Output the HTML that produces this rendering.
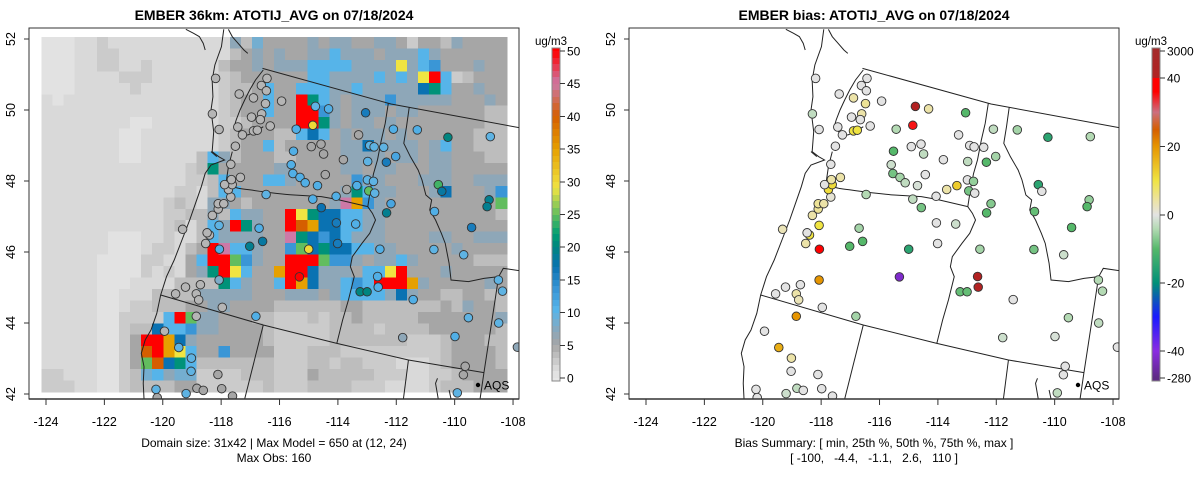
<!DOCTYPE html>
<html><head><meta charset="utf-8">
<style>
html,body{margin:0;padding:0;background:#fff;}
svg{display:block;font-family:"Liberation Sans",Arial,sans-serif;}
</style></head>
<body>
<svg id="root" width="1200" height="479" viewBox="0 0 1200 479" xmlns="http://www.w3.org/2000/svg">
<defs>
<clipPath id="clipL"><rect x="29" y="28" width="490" height="371"/></clipPath>
<clipPath id="clipR"><rect x="29" y="28" width="490" height="371"/></clipPath>
</defs>
<g id="panelL"></g>
<g id="panelR" transform="translate(600,0)"></g>
</svg>
<script>
// ---------------- data ----------------
const gridRowsLeft = [
"aaabbcbbbbbbbbbbbfdge","aaabbccbbbbbbbbbbdefe","aaabbccbbcbbbbbbdeefe","aaabbbbcccbbbbbbcdeee",
"aaabbbbbcbbbbbbbcddeh","babbbbbbbbbbbbbbcdeeh","bbbbbbbbbbbbbbbbcdeeh","bbbbbbbbaabbbbbbccdee",
"bbbbbbbaabbbbbbbcdeee","bbbbbbbaabbbbbbbcdeeh","bbbbbbbaabbbbbdhfdeee","bbbbbbbbbbbbbcdkeeeee",
"bbbbbbbbbbbbbccdheeeh","bbbbbbbbbbbbccbdhheee","bbbbbbbbbbbcdcbffedee","bbbbbbbbbbbccddfdhffe",
"bbbbbbbbbbbcdbdhfqkfe","bbbbbbaaabbcbbdhffffe","bbbbbbaaabccbdeqphhfe","bbbbbaaaaccbbehqqlife",
"bbbbbaaaacbcbefkqmhee","bbbbbaaabbbbddddkhfee","bbbbbaabbbddddfffffee","bbbbbaabccdddeeffeeee",
"bbbbbaacccchqlffeeedd","bbbbbaacddjhhiffeeeed","bbbbbaaceqqnjfeeeeeed","bbbbbaaceoqnmheeieeee",
"bbbbbaacelojkhddddddd","ccbbbaacdghfggccccddd","cccbbaacddddeeccccccd"];
const gridRowsRight = [
"eeefeffeeffeceedfeeee","feeffhfffefffhfeeeeee","fffhhhhffffmfhieeefee","eeehhffffhfhfmqhcdeee",
"eehhhffhfffffjkheefee","eeqkhfefffifffffeeefe","eeqqifefffeffeeeeeedd","eeqqkfeffefeeeeeeeedd",
"ddhjhefeffefeeeeeeddd","deeeeeffjffffefheeddd","ddeeeeffffeffeffeeedd","ffeeeeffeffeeeffeeeee",
"hfeeeeeiffeeefffeefff","eeeeeefkhffeeefjeeefi","eeeeefpnifeeeeeeeeeel","eqmkjjhhffeeeeeeeeeed",
"eqonjjhhffeeeeeeeeeee","epkjijhfffeeeeffeefff","eiljkjjhhffeeeeefeeee","eqqqliifeffhfeeeeeddd",
"nqqjfffehhmqeeefeeeee","hqnjffhihqqqnfeeeeefe","efffefhhhhfjfeeddeedd","ddddddeedddddddedfeed",
"cccdcddedddddeeeeeeef","cccccddddcddddeeeeeed","cccccdddddddcccdeeedd","cccdddcccccccccdeeeed",
"cccddcddcccbbbcdeeeed","cccedddddcccbbccdeeee","cccddddcccbbbbcdddeee"];
const codeKeys   = ["a","b","c","d","e","f","g","h","i","j","k","l","m","n","o","p","q"];
const codeValues = [0.5,1.5,2.5,3.5,5,7,8.5,10.5,13.5,17,21,25,29,35,40,45,50];

const stationLon = [-118.19,-116.43,-116.62,-116.45,-117.38,-116.89,-116.48,-115.93,-118.30,-116.61,-116.96,-116.66,-117.43,-118.07,-116.32,-117.27,-116.89,-116.76,-117.51,-114.77,-114.32,-113.05,-114.86,-115.43,-115.52,-114.91,-114.58,-114.49,-113.29,-112.10,-111.28,-110.23,-108.78,-112.91,-112.76,-112.43,-112.34,-112.02,-112.98,-113.81,-115.60,-115.54,-115.30,-115.12,-114.70,-114.43,-113.35,-113.70,-112.99,-112.78,-112.94,-112.74,-114.06,-114.86,-116.46,-114.57,-112.18,-112.33,-110.56,-110.44,-108.82,-108.89,-110.69,-109.42,-114.05,-113.39,-114.01,-112.56,-115.00,-116.58,-117.02,-116.70,-118.06,-118.07,-118.40,-118.48,-118.53,-118.30,-118.10,-118.10,-117.91,-117.67,-117.75,-117.62,-117.88,-117.65,-117.34,-117.67,-119.32,-110.71,-109.69,-115.32,-112.64,-112.62,-113.24,-113.00,-118.07,-118.71,-119.22,-119.56,-118.85,-118.77,-117.96,-116.81,-118.85,-111.42,-108.50,-108.36,-109.53,-108.49,-109.99,-111.78,-107.85,-119.94,-119.45,-119.02,-119.03,-118.11,-109.64,-109.70,-120.23,-119.20,-118.83,-118.61,-117.98,-117.61,-120.19,-109.91];
const stationLat = [50.89,50.89,50.69,50.54,50.45,50.34,50.18,50.25,49.89,49.89,49.80,49.73,49.52,49.45,49.55,49.30,49.41,49.43,48.98,50.10,50.03,49.92,49.57,49.46,48.84,48.97,49.04,48.76,49.30,49.46,49.44,49.23,49.25,49.00,48.96,48.95,48.53,48.69,48.55,48.60,48.46,48.21,48.10,47.95,47.87,48.18,47.87,47.76,48.03,47.99,47.72,47.66,47.57,47.49,47.62,47.25,47.36,47.10,47.90,47.71,47.47,47.28,47.14,46.69,46.82,46.79,46.24,46.08,46.08,46.30,46.16,46.67,46.08,46.75,46.48,46.54,46.24,47.03,47.21,47.36,47.36,47.55,47.76,47.90,47.90,48.04,48.10,48.47,46.64,46.07,45.92,45.30,45.31,45.01,44.88,44.88,45.21,45.08,45.01,44.82,44.82,44.65,44.44,44.19,44.19,44.66,45.21,44.90,44.15,44.00,43.62,43.59,43.32,43.77,43.31,43.01,42.64,42.55,42.78,42.54,42.13,42.01,42.16,42.10,42.15,41.94,41.90,42.03];
const stationObs = [4,4,4,4,4,4,4,4,4,4,4,4,4,4,4,4,4,4,4,10,11,16,30,11,11,5,5,5,5,11,11,20,10,10,10,10,16,12,10,5,11,11,11,11,11,5,11,5,10,10,25,10,11,11,10,17,12,19,24,18,19,19,11,16,16,11,16,11,30,18,19,11,11,10,4,4,4,4,4,4,4,4,4,4,4,4,4,4,4,10,10,160,11,11,20,20,8,4,4,4,4,4,4,11,4,11,10,10,10,10,11,7,7,4,10,10,10,5,5,5,10,10,5,5,5,5,5,10];
const stationBias = [0,0,0,0,0,4,5,0,-3,4,0,0,0,0,0,0,10,10,0,60,4,-10,35,-4,-10,0,0,-3,0,-3,-5,-15,-4,0,0,0,-10,-5,-3,0,-2,-8,-5,-3,-1,0,13,4,0,-6,-8,0,0,-3,-4,-8,-7,-10,-15,0,-6,-10,-9,-10,0,-2,0,-5,-15,-10,-10,-5,38,10,10,0,4,4,5,5,4,1,11,11,0,4,4,0,3,-8,-2,-100,60,60,-9,-9,20,0,0,0,4,3,0,-5,20,0,-4,-4,-4,-3,-1,-2,0,0,17,4,0,0,0,0,0,-2,-3,0,0,0,0,-3];

const xTickValues = [-124,-122,-120,-118,-116,-114,-112,-110,-108];
const yTickValues = [42,44,46,48,50,52];
const modelBarTicks = [0,5,10,15,20,25,30,35,40,45,50];
const biasBarTicks = [-280,-40,-20,0,20,40,3000];

// ---------------- helpers ----------------
const NS="http://www.w3.org/2000/svg";
function mk(tag,attrs,parent){const e=document.createElementNS(NS,tag);for(const k in attrs)e.setAttribute(k,attrs[k]);if(parent)parent.appendChild(e);return e;}
const lonX = lon => 46 + (lon+124)*29.19;
const latY = lat => 39 + (52-lat)*35.5;
function hex(h){return [parseInt(h.slice(1,3),16),parseInt(h.slice(3,5),16),parseInt(h.slice(5,7),16)];}
function interp(stops,v){
  if(v<=stops[0][0])return stops[0][1];
  for(let i=1;i<stops.length;i++){if(v<=stops[i][0]){const a=stops[i-1],b=stops[i];const t=(v-a[0])/(b[0]-a[0]);const c1=hex(a[1]),c2=hex(b[1]);return "rgb("+c1.map((c,j)=>Math.round(c+(c2[j]-c)*t)).join(",")+")";}}
  return stops[stops.length-1][1];
}
const modelStops=[[0,"#e6e6e6"],[1.5,"#d9d9d9"],[2.5,"#cbcbcb"],[3.5,"#bdbdbd"],[5,"#a6a6a6"],[7,"#8ea7b8"],[8.5,"#74aed0"],[10.5,"#56b4e9"],[13.5,"#3a96d6"],[17,"#0a72b2"],[20,"#00857f"],[22,"#009e73"],[25,"#62bd5f"],[29,"#f0e442"],[35,"#e6a000"],[40,"#d55e00"],[45,"#cc79a7"],[50,"#ff0000"]];
const biasStops=[[-280,"#5e2a84"],[-40,"#8a2be2"],[-30,"#1a1aff"],[-20,"#009078"],[-10,"#55b86a"],[-4,"#b4dab4"],[0,"#e3e3e3"],[4,"#ece3a8"],[10,"#f0e442"],[20,"#e69500"],[25,"#d55e00"],[30,"#cc6f80"],[36,"#ff0000"],[40,"#ff0000"],[41,"#b22222"],[3000,"#a52a2a"]];
const modelColor=v=>interp(modelStops,Math.min(v,50));
const biasColor=v=>interp(biasStops,v);
const biasPos=[[-280,378],[-40,351],[0,215],[40,78],[3000,51]];
function biasY(v){for(let i=1;i<biasPos.length;i++){if(v<=biasPos[i][0]){const a=biasPos[i-1],b=biasPos[i];return a[1]+(v-a[0])/(b[0]-a[0])*(b[1]-a[1]);}}return 51;}
function biasFromY(y){for(let i=1;i<biasPos.length;i++){const a=biasPos[i-1],b=biasPos[i];if(y>=b[1]){return a[0]+(y-a[1])/(b[1]-a[1])*(b[0]-a[0]);}}return 3000;}
const modelY = v => 378 - v/50*327;

const outlinePaths=[
"M678,205 L1010,312 L1341,383",
"M617,565 C650,570 700,580 760,585 L830,590 L870,598 L950,620",
"M950,620 L962,640 L970,660 L955,700 L935,730 L910,770 L905,800 L915,830 L900,900 L885,960 L870,1030",
"M415,885 L680,975 L870,1030 L1055,1080 L1250,1118",
"M680,975 L632,1197","M1055,1080 L1042,1197","M1250,1118 L1240,1197",
"M1250,1118 L1288,830 L1300,805 L1341,812",
"M1003,310 L995,370 L985,420 L975,480 L965,520 L958,560 L950,620",
"M1057,322 L1050,380 L1043,430 L1060,470 L1080,510 L1090,540 L1100,585 L1115,600 L1110,630 L1125,660 L1140,700 L1150,730 L1160,790 L1165,840 L1210,845 L1250,835 L1288,830",
"M578,88 L572,140 L555,195 L548,240 L550,290 L545,330 L552,395 L548,455 L565,470 L580,480 L545,495 L530,520 L520,560 L505,610 L490,660 L470,720 L450,780 L430,830 L415,885 L405,940 L390,990 L375,1020 L365,1060 L372,1100 L370,1150 L372,1197",
"M480,88 L500,100 L515,110 L525,130 L530,150 M590,88 L600,110 L615,130 L630,150 L640,160",
"M680,210 L660,240 L645,270 L632,300 L620,330 L610,360 L605,380 L620,400 L640,405 L660,395 L680,380",
"M600,455 L590,500 L585,540 L600,560 L617,565 M545,455 L560,470",
"M1130,1135 L1125,1150 L1132,1197 M1160,1170 L1165,1197"];

function drawPanel(g, isBias){
  const clip = isBias? "url(#clipR)":"url(#clipL)";
  const mapG = mk("g",{"clip-path":clip},g);
  
  
  if(!isBias){
    const gridG = mk("g",{"shape-rendering":"crispEdges"},mapG);
    
    
    for(let r=0;r<gridRowsLeft.length;r++){
      const row = gridRowsLeft[r]+gridRowsRight[r];
      for(let c=0;c<row.length;c++){
        const v = codeValues[codeKeys.indexOf(row[c])];
        const cell = mk("rect",{x:(41.4+c*11.08).toFixed(2),y:(37+r*11.45).toFixed(2),width:11.6,height:12,fill:modelColor(v)},gridG);
        
        
      }
    }
  }
  const og = mk("g",{transform:"scale(0.38715,0.33333)",fill:"none",stroke:"#222","stroke-width":"1","vector-effect":"non-scaling-stroke"},mapG);
  
  
  outlinePaths.forEach(d=>{const p=mk("path",{d:d,"vector-effect":"non-scaling-stroke","stroke-width":"1"},og);});
  const sg = mk("g",{},mapG);
  
  
  for(let i=0;i<stationLon.length;i++){
    const col = isBias? biasColor(stationBias[i]) : modelColor(stationObs[i]);
    const c = mk("circle",{cx:lonX(stationLon[i]).toFixed(1),cy:latY(stationLat[i]).toFixed(1),r:4.3,fill:col,stroke:"#333","stroke-width":0.9},sg);
    
    
  }
  // AQS legend
  const lg = mk("g",{},g);
  
  
  mk("circle",{cx:478,cy:385,r:2.2,fill:"#000"},lg);
  const lt = mk("text",{x:484,y:389.5,"font-size":"12",fill:"#000"},lg); lt.textContent="AQS";
  // frame
  const fr = mk("rect",{x:29,y:28,width:490,height:371,fill:"none",stroke:"#333","stroke-width":1},g);
  
  
  mk("line",{x1:29,y1:399,x2:519,y2:399,stroke:"#333","stroke-width":1.5},g);
  // axes
  const xa = mk("g",{},g);
  
  
  xTickValues.forEach(v=>{const x=lonX(v);mk("line",{x1:x,y1:399,x2:x,y2:405,stroke:"#333"},xa);
    const t=mk("text",{x:x,y:426,"text-anchor":"middle","font-size":"12.5",fill:"#000"},xa);t.textContent=String(v).replace("-","-");
    
    });
  const ya = mk("g",{},g);
  
  
  yTickValues.forEach(v=>{const y=latY(v);mk("line",{x1:24,y1:y,x2:29,y2:y,stroke:"#333"},ya);
    const t=mk("text",{x:0,y:0,transform:"translate(15,"+y+") rotate(-90)","text-anchor":"middle","font-size":"12.5",fill:"#000"},ya);t.textContent=v;
    
    });
  // title
  const tt = mk("text",{x:274,y:20,"text-anchor":"middle","font-size":"14","font-weight":"bold",fill:"#000"},g);
  tt.textContent = isBias? "EMBER bias: ATOTIJ_AVG on 07/18/2024" : "EMBER 36km: ATOTIJ_AVG on 07/18/2024";
  
  
  const s1 = mk("text",{x:274,y:447,"text-anchor":"middle","font-size":"12",fill:"#000"},g);
  const s2 = mk("text",{x:274,y:462,"text-anchor":"middle","font-size":"12",fill:"#000","xml:space":"preserve"},g);
  s2.style.whiteSpace="pre";
  if(isBias){s1.textContent="Bias Summary: [ min, 25th %, 50th %, 75th %, max ]";s2.textContent="[ -100,   -4.4,   -1.1,   2.6,   110 ]";}
  else{s1.textContent="Domain size: 31x42 | Max Model = 650 at (12, 24)";s2.textContent="Max Obs: 160";}
  
  
  
  
  // colorbar
  const cb = mk("g",{"shape-rendering":"crispEdges"},g);
  
  
  for(let y=48;y<381;y++){
    let col;
    if(isBias){col=biasColor(biasFromY(y+0.5));}
    else{const v=(378-(y+0.5))/327*50;col=modelColor(Math.max(0,Math.floor(v)+0.5));}
    mk("rect",{x:552,y:y,width:8,height:1.2,fill:col},cb);
  }
  mk("rect",{x:552,y:48,width:8,height:333,fill:"none",stroke:"#888","stroke-width":0.6},cb);
  const ticks = isBias? biasBarTicks : modelBarTicks;
  ticks.forEach(v=>{const y=isBias?biasY(v):modelY(v);mk("line",{x1:560,y1:y,x2:565,y2:y,stroke:"#333"},cb);
    const t=mk("text",{x:567,y:y+4.5,"font-size":"12",fill:"#000"},cb);t.textContent=v;
    
    });
  const ut = mk("text",{x:551,y:45,"text-anchor":"middle","font-size":"11.5",fill:"#000"},cb);ut.textContent="ug/m3";
  
  
}
drawPanel(document.getElementById("panelL"),false);
drawPanel(document.getElementById("panelR"),true);
</script>
</body></html>
